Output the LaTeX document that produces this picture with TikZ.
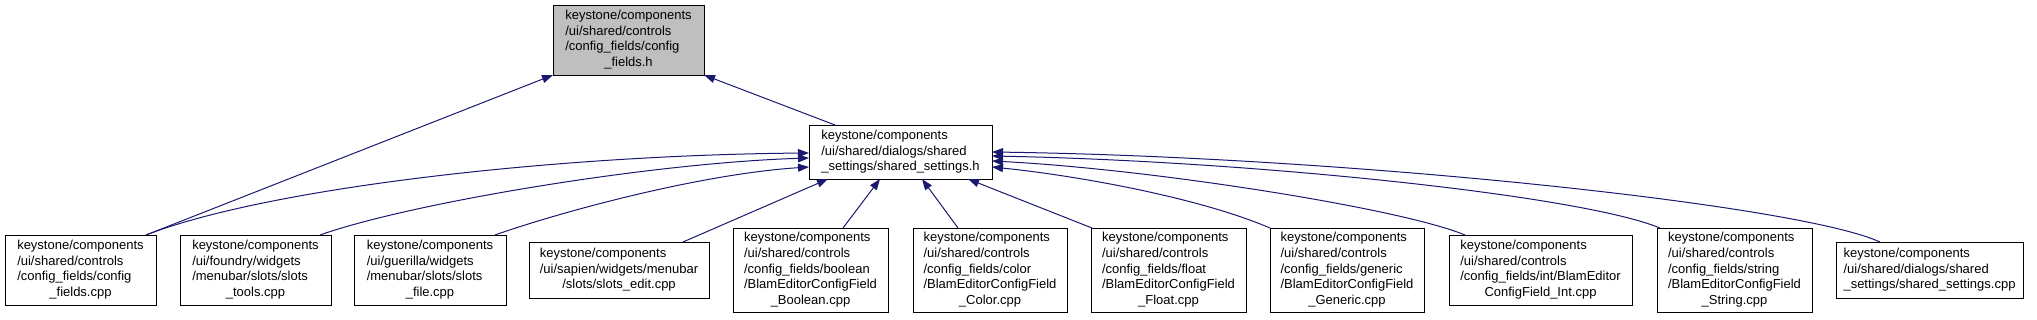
\documentclass[tikz,border=0pt]{standalone}
\usepackage{fontspec}
\setmainfont{Liberation Sans}
\usetikzlibrary{arrows.meta,calc}
\definecolor{edgecol}{HTML}{191970}
\definecolor{hfill}{HTML}{BFBFBF}
\newcommand{\flines}[1]{\begin{tabular}{@{}l@{}}#1\end{tabular}}
\newcommand{\lastc}[1]{\multicolumn{1}{@{}c@{}}{#1}}
\begin{document}
\begin{tikzpicture}[x=1pt,y=-1pt,
  filebox/.style={draw=black, line width=1pt, inner sep=0pt, outer sep=0pt,
    font=\fontsize{13}{15.6}\selectfont, align=center},
  headbox/.style={filebox, fill=hfill},
  edge/.style={draw=edgecol, line width=1pt, -{Triangle[length=11pt,width=8pt]}}]
\useasboundingbox (0,0) rectangle (2037,319);

\node[headbox, minimum width=151, minimum height=70] (h) at (628.5,40)
  {\flines{keystone/components\\/ui/shared/controls\\/config\_fields/config\\\lastc{\_fields.h}}};
\node[filebox, minimum width=183, minimum height=54] (ssh) at (900.5,152)
  {\flines{keystone/components\\/ui/shared/dialogs/shared\\\_settings/shared\_settings.h}};

\node[filebox, minimum width=151, minimum height=70] (b1) at (80.5,270)
  {\flines{keystone/components\\/ui/shared/controls\\/config\_fields/config\\\lastc{\_fields.cpp}}};
\node[filebox, minimum width=151, minimum height=70] (b2) at (255.5,270)
  {\flines{keystone/components\\/ui/foundry/widgets\\/menubar/slots/slots\\\lastc{\_tools.cpp}}};
\node[filebox, minimum width=152, minimum height=70] (b3) at (430,270)
  {\flines{keystone/components\\/ui/guerilla/widgets\\/menubar/slots/slots\\\lastc{\_file.cpp}}};
\node[filebox, minimum width=180, minimum height=56] (b4) at (619,270)
  {\flines{keystone/components\\/ui/sapien/widgets/menubar\\\lastc{/slots/slots\_edit.cpp}}};
\node[filebox, minimum width=155, minimum height=84] (b5) at (810.5,270)
  {\flines{keystone/components\\/ui/shared/controls\\/config\_fields/boolean\\/BlamEditorConfigField\\\lastc{\_Boolean.cpp}}};
\node[filebox, minimum width=154, minimum height=84] (b6) at (990,270)
  {\flines{keystone/components\\/ui/shared/controls\\/config\_fields/color\\/BlamEditorConfigField\\\lastc{\_Color.cpp}}};
\node[filebox, minimum width=155, minimum height=84] (b7) at (1168.5,270)
  {\flines{keystone/components\\/ui/shared/controls\\/config\_fields/float\\/BlamEditorConfigField\\\lastc{\_Float.cpp}}};
\node[filebox, minimum width=154, minimum height=84] (b8) at (1347,270)
  {\flines{keystone/components\\/ui/shared/controls\\/config\_fields/generic\\/BlamEditorConfigField\\\lastc{\_Generic.cpp}}};
\node[filebox, minimum width=183, minimum height=70] (b9) at (1540.5,270)
  {\flines{keystone/components\\/ui/shared/controls\\/config\_fields/int/BlamEditor\\\lastc{ConfigField\_Int.cpp}}};
\node[filebox, minimum width=155, minimum height=84] (b10) at (1734.5,270)
  {\flines{keystone/components\\/ui/shared/controls\\/config\_fields/string\\/BlamEditorConfigField\\\lastc{\_String.cpp}}};
\node[filebox, minimum width=187, minimum height=56] (b11) at (1929.5,270)
  {\flines{keystone/components\\/ui/shared/dialogs/shared\\\_settings/shared\_settings.cpp}};

% edges to config_fields.h
\draw[edge] ($(b1.north)+(65.5,0)$) -- (h.south west);
\draw[edge] ($(ssh.north)+(-65.5,0)$) -- (h.south east);

% left curves into shared_settings.h
\draw[edge] ($(b1.north)+(65.5,0)$) .. controls (270,187) and (560,155) .. ($(ssh.west)+(0,1)$);
\draw[edge] ($(b2.north)+(64.5,0)$) .. controls (410,203) and (650,163) .. ($(ssh.west)+(0,6)$);
\draw[edge] ($(b3.north)+(65,0)$) .. controls (560,212) and (700,174) .. ($(ssh.west)+(0,15)$);

% straight edges from below
\draw[edge] ($(b4.north)+(64,0)$) -- ($(ssh.south)+(-72.5,0)$);
\draw[edge] ($(b5.north)+(32.5,0)$) -- ($(ssh.south)+(-20.5,0)$);
\draw[edge] ($(b6.north)+(-32,0)$) -- ($(ssh.south)+(21.5,0)$);
\draw[edge] ($(b7.north west)+(1,0)$) -- ($(ssh.south)+(67.5,0)$);

% right curves into shared_settings.h
\draw[edge] (b8.north west) .. controls (1200,198) and (1080,176) .. ($(ssh.east)+(0,15)$);
\draw[edge] ($(b9.north west)+(16,0)$) .. controls (1400,208) and (1150,169) .. ($(ssh.east)+(0,9)$);
\draw[edge] ($(b10.north west)+(3,0)$) .. controls (1580,195) and (1250,161) .. ($(ssh.east)+(0,4)$);
\draw[edge] ($(b11.north west)+(44,0)$) .. controls (1800,205) and (1350,157) .. ($(ssh.east)+(0,0)$);
\end{tikzpicture}
\end{document}
